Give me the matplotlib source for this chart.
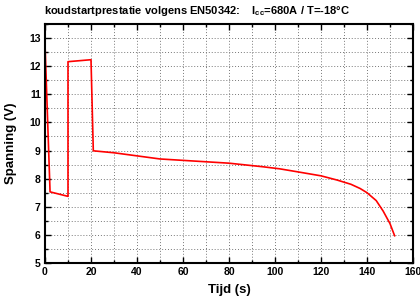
import matplotlib
matplotlib.use("Agg")
import matplotlib.pyplot as plt
from matplotlib.ticker import MultipleLocator

plt.rcParams['font.family'] = ['Liberation Sans', 'DejaVu Sans']
plt.rcParams['font.weight'] = 'bold'
plt.rcParams['mathtext.fontset'] = 'custom'
plt.rcParams['mathtext.rm'] = 'Liberation Sans:bold'
plt.rcParams['mathtext.bf'] = 'Liberation Sans:bold'
plt.rcParams['mathtext.it'] = 'Liberation Sans:bold'

time_s = [0, 2.2, 10, 10, 20, 21, 30, 50, 80, 95, 102, 110, 120, 127, 133, 137, 140, 144, 147, 150, 152]
voltage = [12.8, 7.53, 7.37, 12.16, 12.23, 8.99, 8.92, 8.70, 8.55, 8.42, 8.35, 8.24, 8.1, 7.95, 7.8, 7.65, 7.5, 7.22, 6.85, 6.4, 5.97]

x_ticks = [0, 20, 40, 60, 80, 100, 120, 140, 160]
y_ticks = [5, 6, 7, 8, 9, 10, 11, 12, 13]

fig = plt.figure(figsize=(4.2, 3.0), dpi=100)
ax = fig.add_axes([45/420, 1 - 263/300, (413-45)/420, (263-24)/300])
ax.plot(time_s, voltage, color='#ff0000', lw=1.2)
ax.set_xlim(0, 160)
ax.set_ylim(5, 13.5)
ax.set_xticks(x_ticks)
ax.set_yticks(y_ticks)
ax.xaxis.set_minor_locator(MultipleLocator(10))
ax.yaxis.set_minor_locator(MultipleLocator(0.5))
ax.grid(True, which='both', color='#777777', linestyle=(0, (1, 2)), linewidth=0.7)
ax.tick_params(which='both', direction='in', top=True, right=True, labelsize=7.5, width=1.0, pad=3)
ax.tick_params(which='major', length=4)
ax.tick_params(which='minor', length=2)
for s in ax.spines.values():
    s.set_linewidth(1.5)
for lab in ax.get_xticklabels() + ax.get_yticklabels():
    lab.set_fontweight('bold')
ax.set_xlabel('Tijd (s)', fontsize=9.5, fontweight='bold', labelpad=5)
ax.set_ylabel('Spanning (V)', fontsize=9.5, fontweight='bold', labelpad=9)
fig.text(197/420, 1 - 11/300, r'koudstartprestatie volgens EN50342:    I$_{\mathrm{cc}}$=680A / T=-18°C',
         ha='center', va='center', fontsize=8, fontweight='bold')
fig.savefig('out.png', dpi=100)
